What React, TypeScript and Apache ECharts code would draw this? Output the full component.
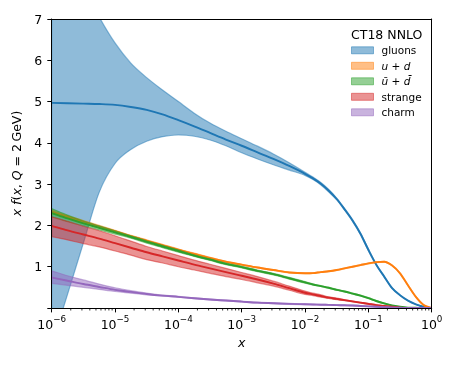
import React, { useEffect, useRef } from "react";
import * as echarts from "echarts";

// log10(x) grid shared by all curves
const X_EXP = [-6, -5.75, -5.5, -5.25, -5, -4.75, -4.5, -4.25, -4, -3.75, -3.5, -3.25, -3, -2.75, -2.5, -2.25, -2,
  -1.875, -1.75, -1.625, -1.5, -1.375, -1.25, -1.125, -1, -0.875, -0.75, -0.625, -0.5, -0.375, -0.25, -0.125, 0];
const X = X_EXP.map((e) => Math.pow(10, e));

const GLUON_C = [4.97, 4.96, 4.95, 4.94, 4.92, 4.87, 4.80, 4.69, 4.55, 4.40, 4.24, 4.08, 3.93, 3.77, 3.61, 3.44, 3.25,
  3.14, 3.01, 2.84, 2.64, 2.39, 2.12, 1.80, 1.41, 1.05, 0.76, 0.48, 0.31, 0.18, 0.09, 0.03, 0];
const GLUON_HI = [9.8, 8.7, 7.8, 7.05, 6.42, 5.93, 5.58, 5.28, 5.0, 4.72, 4.48, 4.28, 4.10, 3.92, 3.73, 3.52, 3.29,
  3.17, 3.04, 2.87, 2.66, 2.41, 2.14, 1.82, 1.43, 1.06, 0.77, 0.49, 0.31, 0.18, 0.09, 0.03, 0];
const GLUON_LO = [-0.9, 0.33, 1.57, 2.80, 3.50, 3.84, 4.04, 4.15, 4.19, 4.16, 4.07, 3.93, 3.76, 3.61, 3.47, 3.34, 3.21,
  3.11, 2.98, 2.81, 2.62, 2.37, 2.10, 1.78, 1.39, 1.04, 0.75, 0.47, 0.31, 0.18, 0.09, 0.03, 0];

const UPD_C = [2.33, 2.21, 2.09, 1.97, 1.86, 1.74, 1.63, 1.52, 1.41, 1.31, 1.21, 1.12, 1.05, 0.98, 0.92, 0.86, 0.84,
  0.845, 0.87, 0.89, 0.92, 0.96, 1.00, 1.04, 1.08, 1.11, 1.12, 1.03, 0.84, 0.55, 0.27, 0.07, 0];
const UPD_HI = [2.37, 2.24, 2.12, 2.00, 1.88, 1.76, 1.65, 1.54, 1.43, 1.33, 1.23, 1.13, 1.06, 0.99, 0.93, 0.87, 0.85,
  0.855, 0.88, 0.90, 0.93, 0.97, 1.01, 1.05, 1.09, 1.12, 1.13, 1.04, 0.85, 0.56, 0.28, 0.07, 0];
const UPD_LO = [2.29, 2.18, 2.06, 1.94, 1.84, 1.72, 1.61, 1.50, 1.39, 1.29, 1.19, 1.11, 1.04, 0.97, 0.91, 0.85, 0.83,
  0.835, 0.86, 0.88, 0.91, 0.95, 0.99, 1.03, 1.07, 1.10, 1.11, 1.02, 0.83, 0.54, 0.26, 0.07, 0];

const UBDB_C = [2.30, 2.17, 2.05, 1.94, 1.83, 1.72, 1.60, 1.49, 1.38, 1.27, 1.17, 1.07, 0.99, 0.90, 0.82, 0.72, 0.62,
  0.57, 0.53, 0.49, 0.44, 0.40, 0.35, 0.30, 0.24, 0.17, 0.11, 0.06, 0.03, 0.01, 0.005, 0, 0];
const UBDB_HI = [2.41, 2.25, 2.11, 1.99, 1.87, 1.75, 1.63, 1.52, 1.41, 1.29, 1.19, 1.09, 1.01, 0.92, 0.84, 0.74, 0.64,
  0.58, 0.54, 0.50, 0.45, 0.41, 0.36, 0.31, 0.25, 0.18, 0.12, 0.06, 0.03, 0.01, 0.005, 0, 0];
const UBDB_LO = [2.21, 2.09, 1.99, 1.89, 1.79, 1.69, 1.57, 1.46, 1.35, 1.25, 1.15, 1.05, 0.97, 0.88, 0.80, 0.70, 0.60,
  0.56, 0.52, 0.48, 0.43, 0.39, 0.34, 0.29, 0.23, 0.16, 0.10, 0.06, 0.03, 0.01, 0.005, 0, 0];

const STR_C = [1.99, 1.88, 1.78, 1.68, 1.57, 1.46, 1.35, 1.25, 1.15, 1.05, 0.96, 0.87, 0.78, 0.69, 0.59, 0.48, 0.37,
  0.33, 0.29, 0.25, 0.22, 0.19, 0.16, 0.13, 0.10, 0.07, 0.05, 0.03, 0.01, 0, 0, 0, 0];
const STR_HI = [2.21, 2.10, 1.98, 1.87, 1.75, 1.62, 1.49, 1.38, 1.27, 1.16, 1.06, 0.96, 0.86, 0.76, 0.65, 0.53, 0.41,
  0.36, 0.32, 0.27, 0.24, 0.20, 0.17, 0.14, 0.11, 0.08, 0.05, 0.03, 0.01, 0, 0, 0, 0];
const STR_LO = [1.73, 1.65, 1.56, 1.48, 1.38, 1.28, 1.17, 1.09, 1.00, 0.92, 0.84, 0.76, 0.69, 0.61, 0.53, 0.43, 0.33,
  0.30, 0.26, 0.23, 0.20, 0.18, 0.15, 0.12, 0.09, 0.06, 0.04, 0.03, 0.01, 0, 0, 0, 0];

const CHARM_C = [0.74, 0.66, 0.58, 0.51, 0.44, 0.39, 0.34, 0.30, 0.27, 0.235, 0.205, 0.18, 0.155, 0.13, 0.115, 0.10, 0.09,
  0.085, 0.08, 0.075, 0.07, 0.065, 0.06, 0.05, 0.04, 0.03, 0.02, 0.01, 0.005, 0, 0, 0, 0];
const CHARM_HI = [0.90, 0.78, 0.68, 0.58, 0.49, 0.42, 0.36, 0.31, 0.28, 0.245, 0.215, 0.19, 0.165, 0.14, 0.125, 0.11, 0.10,
  0.095, 0.09, 0.085, 0.08, 0.075, 0.07, 0.06, 0.05, 0.04, 0.03, 0.02, 0.01, 0, 0, 0, 0];
const CHARM_LO = [0.60, 0.55, 0.50, 0.45, 0.40, 0.36, 0.32, 0.29, 0.26, 0.225, 0.195, 0.17, 0.145, 0.12, 0.105, 0.09, 0.08,
  0.075, 0.07, 0.065, 0.06, 0.055, 0.05, 0.04, 0.03, 0.02, 0.01, 0.005, 0, 0, 0, 0, 0];

const SPECIES = [
  { name: "gluons", label: "gluons", color: [31, 119, 180], c: GLUON_C, lo: GLUON_LO, hi: GLUON_HI },
  { name: "u + d", label: "{i|u} + {i|d}", color: [255, 127, 14], c: UPD_C, lo: UPD_LO, hi: UPD_HI },
  { name: "\u016B + d\u0304", label: "{i|\u016B} + {i|d\u0304}", color: [44, 160, 44], c: UBDB_C, lo: UBDB_LO, hi: UBDB_HI },
  { name: "strange", label: "strange", color: [214, 39, 40], c: STR_C, lo: STR_LO, hi: STR_HI },
  { name: "charm", label: "charm", color: [148, 103, 189], c: CHARM_C, lo: CHARM_LO, hi: CHARM_HI },
];

const LEGEND_TITLE = "CT18 NNLO";
const Y_MIN = 0;
const Y_MAX = 7;
const MINOR_TICKS: number[] = [];
for (let e = -6; e < 0; e++) for (let k = 2; k <= 9; k++) MINOR_TICKS.push(k * Math.pow(10, e));

// cubic Hermite segments through points with increasing x (pixel space)
function hermite(pts: number[][]) {
  const n = pts.length;
  const h: number[] = [], d: number[] = [], m: number[] = [];
  for (let i = 0; i < n - 1; i++) {
    h[i] = pts[i + 1][0] - pts[i][0];
    d[i] = h[i] !== 0 ? (pts[i + 1][1] - pts[i][1]) / h[i] : 0;
  }
  for (let i = 0; i < n; i++) {
    if (i === 0) m[i] = d[0];
    else if (i === n - 1) m[i] = d[n - 2];
    else if (d[i - 1] * d[i] <= 0) m[i] = 0;
    else m[i] = (h[i] * d[i - 1] + h[i - 1] * d[i]) / (h[i - 1] + h[i]);
  }
  const segs: number[][][] = [];
  for (let i = 0; i < n - 1; i++) {
    const p1 = pts[i], p2 = pts[i + 1];
    segs.push([p1, [p1[0] + h[i] / 3, p1[1] + (m[i] * h[i]) / 3], [p2[0] - h[i] / 3, p2[1] - (m[i + 1] * h[i]) / 3], p2]);
  }
  return segs;
}

const BandShape = (echarts.graphic as any).extendShape({
  type: "pdfBand",
  shape: { top: [], bot: [] },
  buildPath(ctx: any, shape: any) {
    if (!shape.top || !shape.top.length) return;
    const ts = hermite(shape.top);
    ctx.moveTo(shape.top[0][0], shape.top[0][1]);
    ts.forEach((s) => ctx.bezierCurveTo(s[1][0], s[1][1], s[2][0], s[2][1], s[3][0], s[3][1]));
    const bs = hermite(shape.bot);
    const last = shape.bot[shape.bot.length - 1];
    ctx.lineTo(last[0], last[1]);
    for (let i = bs.length - 1; i >= 0; i--) {
      const s = bs[i];
      ctx.bezierCurveTo(s[2][0], s[2][1], s[1][0], s[1][1], s[0][0], s[0][1]);
    }
    ctx.closePath();
  },
});
const CurveShape = (echarts.graphic as any).extendShape({
  type: "pdfCurve",
  shape: { pts: [] },
  buildPath(ctx: any, shape: any) {
    if (!shape.pts || !shape.pts.length) return;
    ctx.moveTo(shape.pts[0][0], shape.pts[0][1]);
    hermite(shape.pts).forEach((s) => ctx.bezierCurveTo(s[1][0], s[1][1], s[2][0], s[2][1], s[3][0], s[3][1]));
  },
});
echarts.graphic.registerShape("pdfBand", BandShape);
echarts.graphic.registerShape("pdfCurve", CurveShape);

const rgba = (c: number[], a: number) => `rgba(${c[0]},${c[1]},${c[2]},${a})`;
const FONT = "DejaVu Sans";
const FS = 12.5; // base font size (ticks, axis labels)
const LFS = 10.5; // legend font size

export default function App() {
  const ref = useRef<HTMLDivElement>(null);
  useEffect(() => {
    if (!ref.current) return;
    const chart = echarts.init(ref.current, undefined, { renderer: "svg" });
    const series: any[] = [];
    SPECIES.forEach((s) => {
      series.push({
        type: "custom",
        name: s.name,
        coordinateSystem: "cartesian2d",
        clip: true,
        silent: true,
        data: X.map((x, i) => [x, s.lo[i], s.hi[i]]),
        encode: { x: 0, y: [1, 2] },
        renderItem: (params: any, api: any) => {
          if (params.dataIndex !== 0) return null;
          const top = X.map((x, i) => api.coord([x, s.hi[i]]));
          const bot = X.map((x, i) => api.coord([x, s.lo[i]]));
          return {
            type: "pdfBand",
            shape: { top, bot },
            style: { fill: rgba(s.color, 0.5), stroke: rgba(s.color, 0.5), lineWidth: 1.2 },
          };
        },
      });
      series.push({
        type: "custom",
        name: s.name,
        coordinateSystem: "cartesian2d",
        clip: true,
        silent: true,
        data: X.map((x, i) => [x, s.c[i]]),
        encode: { x: 0, y: 1 },
        renderItem: (params: any, api: any) => {
          if (params.dataIndex !== 0) return null;
          const pts = X.map((x, i) => api.coord([x, s.c[i]]));
          return {
            type: "pdfCurve",
            shape: { pts },
            style: { fill: null, stroke: rgba(s.color, 1), lineWidth: 1.9 },
          };
        },
      });
    });
    series.push({
      type: "custom",
      coordinateSystem: "cartesian2d",
      clip: false,
      silent: true,
      z: 10,
      data: MINOR_TICKS.map((v) => [v, 0]),
      encode: { x: 0, y: 1 },
      renderItem: (params: any, api: any) => {
        const p = api.coord([api.value(0), 0]);
        return {
          type: "line",
          shape: { x1: p[0], y1: p[1], x2: p[0], y2: p[1] + 2.5 },
          style: { stroke: "#000", lineWidth: 0.8 },
        };
      },
    });

    const axisLine = { show: true, onZero: false, lineStyle: { color: "#000", width: 1 } };
    chart.setOption({
      animation: false,
      textStyle: { fontFamily: FONT },
      grid: { left: 51.7, right: 26.3, top: 19, bottom: 58, show: false },
      xAxis: [
        {
          type: "log",
          logBase: 10,
          min: 1e-6,
          max: 1,
          splitNumber: 6,
          position: "bottom",
          z: 10,
          axisLine,
          axisTick: { show: true, length: 4.4, lineStyle: { color: "#000", width: 1 } },
          splitLine: { show: false },
          axisLabel: {
            margin: 6.8,
            color: "#000",
            formatter: (v: number) => {
              const e = Math.round(Math.log10(v));
              return `{b|10}{s|${e < 0 ? "\u2212" : ""}${Math.abs(e)}}`;
            },
            rich: {
              b: { fontFamily: FONT, fontSize: FS, lineHeight: 16, verticalAlign: "bottom", color: "#000" },
              s: { fontFamily: FONT, fontSize: FS * 0.7, lineHeight: 8, verticalAlign: "top", color: "#000" },
            },
          },
          name: "x",
          nameLocation: "middle",
          nameGap: 24.5,
          nameTextStyle: { fontFamily: FONT, fontStyle: "italic", fontSize: FS, color: "#000" },
        },
        {
          type: "log",
          logBase: 10,
          min: 1e-6,
          max: 1,
          position: "top",
          z: 10,
          axisLine,
          axisTick: { show: false },
          axisLabel: { show: false },
          splitLine: { show: false },
        },
      ],
      yAxis: [
        {
          type: "value",
          min: Y_MIN,
          max: Y_MAX,
          interval: 1,
          z: 10,
          axisLine,
          axisTick: { show: true, length: 4.4, lineStyle: { color: "#000", width: 1 } },
          splitLine: { show: false },
          axisLabel: {
            margin: 9.5,
            color: "#000",
            fontSize: FS,
            fontFamily: FONT,
            formatter: (v: number) => (v === 0 ? "" : String(v)),
          },
          name: "{i|x} {i|f}({i|x}, {i|Q} = 2\u2009GeV)",
          nameLocation: "middle",
          nameRotate: 90,
          nameGap: 21,
          nameTextStyle: {
            fontFamily: FONT,
            fontSize: FS,
            color: "#000",
            rich: { i: { fontFamily: FONT, fontStyle: "italic", fontSize: FS, color: "#000" } },
          },
        },
        {
          type: "value",
          min: Y_MIN,
          max: Y_MAX,
          position: "right",
          z: 10,
          axisLine,
          axisTick: { show: false },
          axisLabel: { show: false },
          splitLine: { show: false },
        },
      ],
      legend: {
        orient: "vertical",
        left: 351,
        top: 44.3,
        padding: 0,
        itemWidth: 22,
        itemHeight: 7,
        itemGap: 3.5,
        selectedMode: false,
        formatter: (name: string) => {
          const s = SPECIES.find((q) => q.name === name);
          return s ? s.label : name;
        },
        textStyle: {
          fontFamily: FONT,
          fontSize: LFS,
          color: "#000",
          lineHeight: 12,
          padding: [0, 0, 0, 3],
          rich: { i: { fontFamily: FONT, fontStyle: "italic", fontSize: LFS, lineHeight: 12, color: "#000" } },
        },
        data: SPECIES.map((s) => ({
          name: s.name,
          icon: "rect",
          itemStyle: { color: rgba(s.color, 0.5), borderColor: rgba(s.color, 0.5), borderWidth: 1 },
        })),
      },
      graphic: [
        {
          type: "text",
          x: 386.7,
          y: 34,
          style: {
            text: LEGEND_TITLE,
            fontFamily: FONT,
            fontSize: FS,
            fill: "#000",
            align: "center",
            verticalAlign: "middle",
          },
        },
      ],
      series,
    });
    return () => chart.dispose();
  }, []);
  return <div ref={ref} style={{ position: "fixed", left: 0, top: 0, width: 458, height: 366 }} />;
}
